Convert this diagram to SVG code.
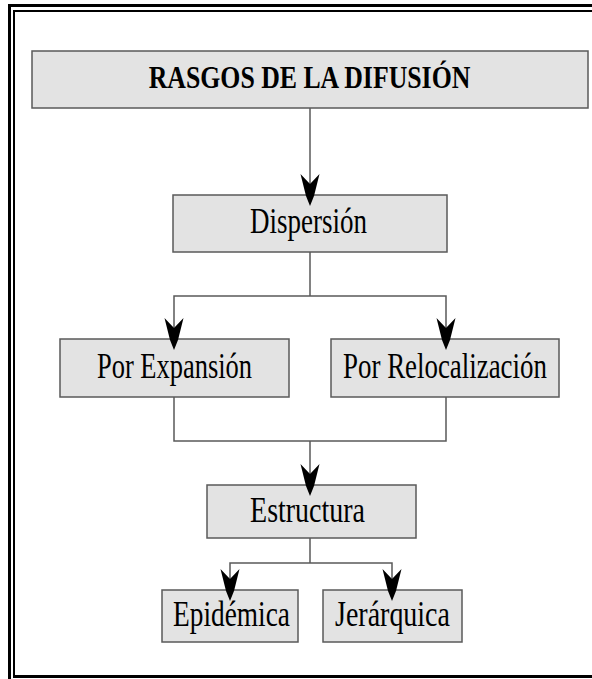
<svg xmlns="http://www.w3.org/2000/svg" xmlns:xlink="http://www.w3.org/1999/xlink" width="592" height="679" viewBox="0 0 592 679">
<style>
.box{fill:#e3e3e3;stroke:#5a5a5a;stroke-width:1.5}
.lbl{font-family:"Liberation Serif","Times New Roman",serif;fill:#000;text-anchor:middle;font-size:36px}
.ttl{font-size:31px;font-weight:bold}
.con{fill:none;stroke:#5a5a5a;stroke-width:1.5}
</style>
<defs>
<path id="ah" d="M-9.5,-21 L0,-11 L9.5,-21 L5,-3 L4,1 L0,11 L-4,1 L-5,-3 Z" fill="#000"/>
</defs>
<rect width="592" height="679" fill="#fff"/>
<g id="frame">
<path d="M9.5,690 V5.5 H600" fill="none" stroke="#000" stroke-width="3"/>
<path d="M14,676.5 V11 H600" fill="none" stroke="#000" stroke-width="2"/>
<path d="M13,676.5 H600" fill="none" stroke="#000" stroke-width="3"/>
</g>
<g id="n-title">
<rect class="box" x="32" y="51" width="556" height="57"/>
<text class="lbl ttl" transform="translate(309.5,88) scale(0.832,1)">RASGOS DE LA DIFUSIÓN</text>
</g>
<g id="n-dispersion">
<rect class="box" x="173" y="195" width="274" height="57"/>
<text class="lbl" transform="translate(308.5,233) scale(0.75,1)">Dispersión</text>
</g>
<g id="n-expansion">
<rect class="box" x="60" y="339" width="229" height="58"/>
<text class="lbl" transform="translate(174.5,378) scale(0.735,1)">Por Expansión</text>
</g>
<g id="n-relocalizacion">
<rect class="box" x="331" y="339" width="228" height="58"/>
<text class="lbl" transform="translate(445,378) scale(0.747,1)">Por Relocalización</text>
</g>
<g id="n-estructura">
<rect class="box" x="207" y="485" width="209" height="53"/>
<text class="lbl" transform="translate(307.5,522) scale(0.777,1)">Estructura</text>
</g>
<g id="n-epidemica">
<rect class="box" x="162" y="590" width="136" height="52"/>
<text class="lbl" transform="translate(231.5,626) scale(0.76,1)">Epidémica</text>
</g>
<g id="n-jerarquica">
<rect class="box" x="323" y="590" width="139" height="52"/>
<text class="lbl" transform="translate(392.5,626) scale(0.777,1)">Jerárquica</text>
</g>
<g id="connectors">
<path class="con" d="M310,108 V195"/>
<path class="con" d="M310,252 V296 M174,339 V296 H446 V339"/>
<path class="con" d="M174,397 V441 H446 V397 M310,441 V485"/>
<path class="con" d="M310,538 V563 M230,590 V563 H392 V590"/>
<use xlink:href="#ah" x="310" y="195"/>
<use xlink:href="#ah" x="174" y="339"/>
<use xlink:href="#ah" x="446" y="339"/>
<use xlink:href="#ah" x="310" y="485"/>
<use xlink:href="#ah" x="230" y="590"/>
<use xlink:href="#ah" x="392" y="590"/>
</g>
</svg>
